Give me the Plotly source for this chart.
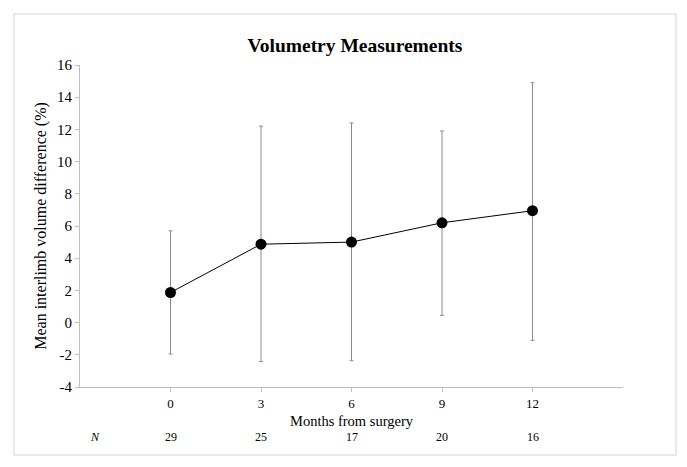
import plotly.graph_objects as go

months = [0, 3, 6, 9, 12]
mean_diff = [1.87, 4.87, 5.0, 6.2, 6.95]
upper = [5.7, 12.2, 12.4, 11.9, 14.9]
lower = [-1.95, -2.42, -2.37, 0.45, -1.1]
n_counts = [29, 25, 17, 20, 16]
y_ticks = [-4, -2, 0, 2, 4, 6, 8, 10, 12, 14, 16]
y_tick_labels = ["-4", "-2", "0", "2", "4", "6", "8", "10", "12", "14", "16"]

err_plus = [u - m for u, m in zip(upper, mean_diff)]
err_minus = [m - l for m, l in zip(mean_diff, lower)]

FONT = "Liberation Serif"

fig = go.Figure()
fig.add_trace(go.Scatter(
    x=months, y=mean_diff, mode="lines+markers",
    line=dict(color="black", width=1),
    marker=dict(color="black", size=11),
    error_y=dict(type="data", symmetric=False, array=err_plus, arrayminus=err_minus,
                 color="#8c8c8c", thickness=1, width=2),
    showlegend=False,
))

ann = []
for m, n in zip(months, n_counts):
    ann.append(dict(x=m, y=-0.155, xref="x", yref="paper", yanchor="middle", text=str(n),
                    showarrow=False, font=dict(family=FONT, size=12, color="black")))
ann.append(dict(x=0.015, y=-0.155, xref="paper", yref="paper", yanchor="middle", text="<i>N</i>",
                showarrow=False, font=dict(family=FONT, size=12, color="black")))
ann.append(dict(x=0.5, y=-0.1056, xref="paper", yref="paper", yanchor="middle",
                text="Months from surgery", showarrow=False,
                font=dict(family=FONT, size=14.5, color="black")))

fig.update_layout(
    width=687, height=467,
    margin=dict(l=72, r=72, t=57, b=88),
    paper_bgcolor="white", plot_bgcolor="white",
    title=dict(text="<b>Volumetry Measurements</b>", x=0.505, xanchor="center", y=0.921, yanchor="middle",
               font=dict(family=FONT, size=19.5, color="black")),
    annotations=ann,
    xaxis=dict(range=[-3, 15], tickvals=months, ticktext=[str(m) for m in months],
               showline=True, linecolor="#bfbfbf", linewidth=1, ticks="outside", ticklen=4,
               tickcolor="#bfbfbf", showgrid=False, zeroline=False,
               tickfont=dict(family=FONT, size=13, color="black")),
    yaxis=dict(range=[-4, 16], tickvals=y_ticks, ticktext=y_tick_labels, showline=True,
               linecolor="#bfbfbf", linewidth=1,
               ticks="outside", ticklen=4, tickcolor="#bfbfbf", showgrid=False, zeroline=False,
               tickfont=dict(family=FONT, size=15, color="black"),
               title=dict(text="Mean interlimb volume difference (%)", standoff=6,
                          font=dict(family=FONT, size=16, color="black"))),
    shapes=[dict(type="rect", xref="paper", yref="paper", x0=-0.1215, x1=1.0976, y0=-0.2112, y1=1.1584,
                 line=dict(color="#d4d4d4", width=1), fillcolor="rgba(0,0,0,0)")],
)

fig.write_html("out.html")
